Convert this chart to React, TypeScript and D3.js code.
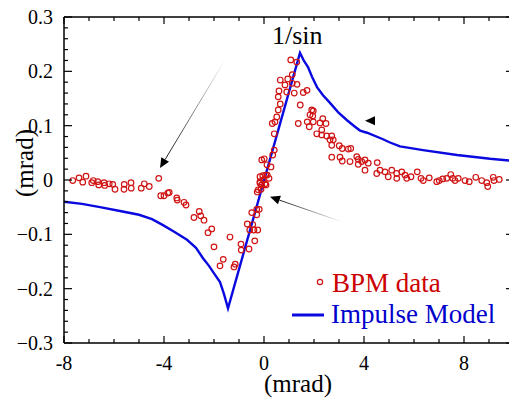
import React, { useEffect } from "react";
import * as d3 from "d3";

// ---- Data ----
const bpmX = [
  -7.65, -7.40, -7.25, -7.12, -6.89, -6.83, -6.65, -6.61, -6.40, -6.37, -6.19, -6.05, -5.96, -5.59, -5.60,
  -5.32, -5.31, -4.91, -4.79, -4.59, -4.21, -4.13, -4.00, -3.85, -3.79, -3.49, -3.47, -3.20, -3.12, -2.80,
  -2.59, -2.53, -2.40, -2.24, -2.09, -2.00, -1.76, -1.63, -1.36, -1.20, -1.15, -0.92, -0.91, -0.60, -0.37,
  -0.67, -0.45, -0.57, -0.40, -0.25, -0.49, -0.29, -0.29, -0.19, -0.27, -0.12, -0.16, -0.16, -0.03, 0.08,
  0.13, -0.05, -0.23, -0.16, 0.04, 0.07, 0.20, -0.09, 0.01, 0.12, 0.28, 0.35, 0.41, 0.41, 0.33,
  0.44, 0.51, 0.57, 0.65, 0.60, 0.65, 0.84, 0.95, 0.91, 1.13, 1.13, 1.21, 1.32, 1.57, 1.72,
  1.45, 1.37, 1.07, 1.31, 0.57, -0.09,
  1.91, 1.97, 1.84, 1.95, 2.35, 1.73, 1.97, 2.24, 2.48, 1.81, 2.31, 2.11, 2.31, 2.51, 2.71,
  2.77, 2.64, 2.71, 3.01, 3.13, 3.37, 3.47, 2.71, 3.04, 3.13, 3.44, 3.71, 3.77, 3.91, 4.04,
  4.17, 3.77, 4.04, 4.53, 4.64, 4.84, 4.51, 4.97, 5.11, 5.31, 5.31, 5.51, 5.64, 5.71, 5.88,
  6.13, 6.28, 6.37, 6.61, 6.91, 7.01, 7.15, 7.31, 7.47, 7.55, 7.64, 7.77, 8.04, 8.21, 8.47,
  8.71, 8.91, 8.95, 9.17, 9.20, 9.41,
];
const bpmY = [
  -0.001, 0.004, -0.004, 0.007, -0.005, -0.001, -0.003, -0.009, -0.005, -0.010, -0.007, -0.008, -0.017, -0.008, -0.017,
  -0.005, -0.015, -0.015, -0.007, -0.012, 0.003, -0.029, -0.029, -0.024, -0.023, -0.033, -0.037, -0.041, -0.046, -0.069,
  -0.058, -0.066, -0.074, -0.097, -0.090, -0.123, -0.158, -0.146, -0.105, -0.160, -0.155, -0.118, -0.129, -0.127, -0.112,
  -0.081, -0.082, -0.092, -0.092, -0.092, -0.060, -0.064, -0.054, -0.054, -0.022, -0.017, -0.006, 0.006, 0.000, -0.009,
  0.009, 0.008, -0.018, -0.003, -0.007, 0.009, 0.003, 0.037, 0.039, 0.028, 0.024, 0.046, 0.055, 0.085, 0.104,
  0.107, 0.116, 0.129, 0.140, 0.164, 0.184, 0.175, 0.186, 0.162, 0.194, 0.178, 0.160, 0.176, 0.161, 0.165,
  0.138, 0.104, 0.221, 0.217, 0.153, -0.009,
  0.129, 0.127, 0.120, 0.118, 0.113, 0.107, 0.107, 0.105, 0.104, 0.098, 0.092, 0.085, 0.083, 0.081, 0.081,
  0.074, 0.074, 0.064, 0.063, 0.058, 0.057, 0.058, 0.042, 0.042, 0.035, 0.034, 0.043, 0.038, 0.034, 0.037,
  0.031, 0.029, 0.018, 0.032, 0.018, 0.015, 0.012, 0.006, 0.018, 0.012, 0.003, 0.015, 0.009, 0.003, 0.006,
  0.015, 0.003, -0.001, 0.004, -0.003, -0.001, 0.002, 0.003, 0.010, 0.003, -0.001, 0.003, -0.001, -0.003, 0.005,
  -0.001, -0.005, -0.012, 0.005, -0.001, 0.001,
];

const modelX = [
  -8.0, -7.28, -6.56, -5.76, -5.0, -4.48, -4.04, -3.56, -3.08, -2.72, -2.44, -2.2, -2.04, -1.76, -1.6, -1.44,
  1.44, 1.6, 1.76, 1.92, 2.12, 2.36, 2.64, 2.96, 3.32, 3.64, 3.84, 4.12, 4.76, 5.04, 5.44, 6.36, 7.72, 9.04, 10.0,
];
const modelY = [
  -0.04, -0.044, -0.05, -0.057, -0.064, -0.072, -0.083, -0.096, -0.11, -0.125, -0.144, -0.158, -0.169, -0.188, -0.21, -0.236,
  0.234, 0.219, 0.208, 0.19, 0.171, 0.156, 0.142, 0.125, 0.11, 0.098, 0.091, 0.087, 0.075, 0.069, 0.062, 0.055, 0.046, 0.039, 0.035,
];

const xTickLabels = [-8, -4, 0, 4, 8];
const yTickLabels = [0.3, 0.2, 0.1, 0, -0.1, -0.2, -0.3];

// annotation arrows: [fromX, fromY, tipX, tipY]
const arrows = [
  [-1.56, 0.221, -4.16, 0.022],
  [3.12, -0.077, 0.24, -0.031],
  [4.4, 0.109, 4.04, 0.109],
];

const seriesNames = ["BPM data", "Impulse Model"];

const W = 509;
const H = 402;
const left = 64, right = 514, top = 17, bottom = 343;
const RED = "#d01414";
const BLUE = "#0a0ae0";

export default function App() {
  useEffect(() => {
    document.body.style.margin = "0";
  }, []);

  const x = d3.scaleLinear().domain([-8, 10]).range([left, right]);
  const y = d3.scaleLinear().domain([-0.3, 0.3]).range([bottom, top]);

  const line = d3
    .line<number>()
    .x((_, i) => x(modelX[i]))
    .y((_, i) => y(modelY[i]));
  const modelPath = line(modelX) || "";

  const xMinor = d3.range(-8, 11, 1);
  const yMinor = d3.range(-15, 16, 1).map((v) => v * 0.02);
  const tf = { fontFamily: `"Liberation Serif"` };

  return (
    <svg width={W} height={H}>
      <defs>
        {arrows.map((a, i) => (
          <linearGradient
            key={i}
            id={`ag${i}`}
            gradientUnits="userSpaceOnUse"
            x1={x(a[0])}
            y1={y(a[1])}
            x2={x(a[2])}
            y2={y(a[3])}
          >
            <stop offset="0" stopColor="#000" stopOpacity={0} />
            <stop offset="1" stopColor="#000" stopOpacity={1} />
          </linearGradient>
        ))}
        <clipPath id="plotclip">
          <rect x={left} y={top} width={right - left} height={bottom - top} />
        </clipPath>
      </defs>

      <rect x={0} y={0} width={W} height={H} fill="#fff" />

      {/* model line */}
      <path
        d={modelPath}
        fill="none"
        stroke={BLUE}
        strokeWidth={2.4}
        strokeLinejoin="miter"
        clipPath="url(#plotclip)"
      />

      {/* BPM data */}
      <g fill="none" stroke={RED} strokeWidth={1.2}>
        {bpmX.map((v, i) => (
          <circle key={i} cx={x(v)} cy={y(bpmY[i])} r={2.8} />
        ))}
      </g>

      {/* arrows */}
      {arrows.map((a, i) => {
        const x1 = x(a[0]), y1 = y(a[1]), x2 = x(a[2]), y2 = y(a[3]);
        const ang = Math.atan2(y2 - y1, x2 - x1);
        const L = 10, hw = 4.5;
        const bx = x2 - L * Math.cos(ang), by = y2 - L * Math.sin(ang);
        const p1 = [bx + hw * Math.sin(ang), by - hw * Math.cos(ang)];
        const p2 = [bx - hw * Math.sin(ang), by + hw * Math.cos(ang)];
        return (
          <g key={i}>
            {i < 2 && (
              <line x1={x1} y1={y1} x2={bx} y2={by} stroke={`url(#ag${i})`} strokeWidth={1} />
            )}
            <path d={`M${x2},${y2}L${p1[0]},${p1[1]}L${p2[0]},${p2[1]}Z`} fill="#000" />
          </g>
        );
      })}

      {/* axes frame */}
      <g stroke="#000" strokeWidth={1.5} fill="none">
        <line x1={left} y1={top} x2={left} y2={bottom} />
        <line x1={left} y1={bottom} x2={right} y2={bottom} />
        <line x1={left} y1={top} x2={right} y2={top} />
        <line x1={right} y1={top} x2={right} y2={bottom} />
      </g>

      {/* ticks */}
      <g stroke="#000" strokeWidth={1.2}>
        {xMinor.map((v) => {
          const major = v % 4 === 0;
          const len = major ? 7 : 4;
          return (
            <g key={v}>
              <line x1={x(v)} x2={x(v)} y1={bottom} y2={bottom - len} />
              <line x1={x(v)} x2={x(v)} y1={top} y2={top + len} />
            </g>
          );
        })}
        {yMinor.map((v, i) => {
          const major = Math.abs(Math.round(v * 10) - v * 10) < 1e-6;
          const len = major ? 8 : 4;
          return (
            <g key={i}>
              <line x1={left} x2={left + len} y1={y(v)} y2={y(v)} />
              {major && <line x1={right} x2={right - len} y1={y(v)} y2={y(v)} />}
            </g>
          );
        })}
      </g>

      {/* tick labels */}
      {xTickLabels.map((v) => (
        <text key={v} x={x(v)} y={370} textAnchor="middle" fontSize={20} style={tf}>
          {String(v)}
        </text>
      ))}
      {yTickLabels.map((v) => (
        <text key={v} x={53} y={y(v) + 7} textAnchor="end" fontSize={20} style={tf}>
          {v === 0 ? "0" : d3.format(".1f")(v)}
        </text>
      ))}

      {/* axis titles */}
      <text x={298} y={392} fontSize={25} textAnchor="middle" style={tf}>
        (mrad)
      </text>
      <text transform="translate(33,163) rotate(-90)" fontSize={25} textAnchor="middle" style={tf}>
        (mrad)
      </text>

      <text x={272} y={44} fontSize={26} style={tf}>
        1/sin
      </text>

      {/* legend */}
      <circle cx={320} cy={282} r={2.6} fill="none" stroke={RED} strokeWidth={1.2} />
      <text x={332} y={292} fontSize={27} fill="#cc0000" style={tf}>
        {seriesNames[0]}
      </text>
      <line x1={292} x2={324} y1={315} y2={315} stroke={BLUE} strokeWidth={3} />
      <text x={331} y={323} fontSize={27} fill="#0000cc" style={tf}>
        {seriesNames[1]}
      </text>
    </svg>
  );
}
